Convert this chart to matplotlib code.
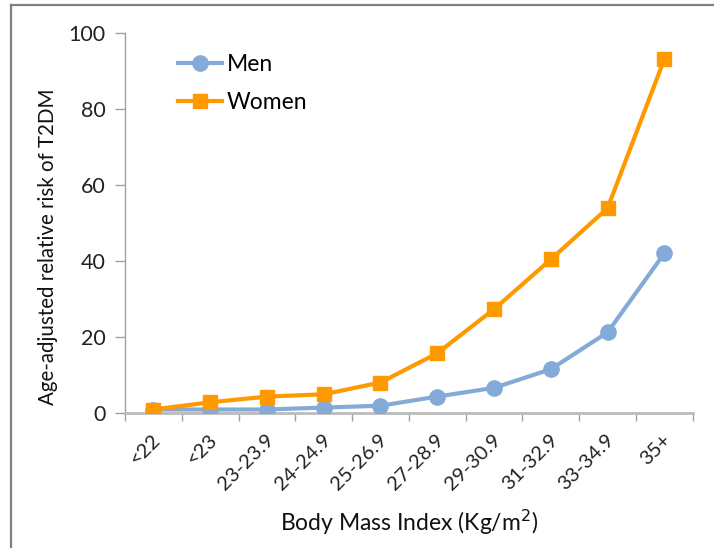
import matplotlib
matplotlib.use("Agg")
import matplotlib.pyplot as plt
from matplotlib.lines import Line2D
from matplotlib.transforms import ScaledTranslation

categories = ["<22", "<23", "23-23.9", "24-24.9", "25-26.9", "27-28.9",
              "29-30.9", "31-32.9", "33-34.9", "35+"]
men = [1.0, 1.0, 1.0, 1.5, 2.0, 4.4, 6.7, 11.6, 21.3, 42.1]
women = [1.0, 2.9, 4.4, 5.0, 8.1, 15.8, 27.4, 40.5, 54.0, 93.2]
yticks = [0, 20, 40, 60, 80, 100]

plt.rcParams['font.family'] = ['Lato', 'DejaVu Sans']

fig = plt.figure(figsize=(7.14, 5.48), dpi=100)
ax = fig.add_axes([0.1751, 0.2458, 0.9702 - 0.1751, 0.9392 - 0.2458])

x = list(range(len(categories)))
ax.plot(x, men, color='#84ABD7', lw=3.0, marker='o', markersize=11,
        label='Men', zorder=3)
ax.plot(x, women, color='#FF9900', lw=3.0, marker='s', markersize=10,
        label='Women', zorder=4)

ax.set_xlim(-0.5, len(categories) - 0.5)
ax.set_ylim(0, 100)
ax.set_yticks(yticks)
ax.set_yticklabels([str(v) for v in yticks], fontsize=15.5, color='#222222')

ax.set_xticks(x)
ax.set_xticklabels(categories, rotation=45, ha='right', rotation_mode='anchor',
                   fontsize=14.5, color='#222222')
ax.tick_params(axis='x', which='major', length=0, pad=13)
offset = ScaledTranslation(-2 / 100, 0, fig.dpi_scale_trans)
for lab in ax.get_xticklabels():
    lab.set_transform(lab.get_transform() + offset)
ax.set_xticks([i - 0.5 for i in range(len(categories) + 1)], minor=True)
ax.tick_params(axis='x', which='minor', length=6, width=1, color='#A0A0A0',
               direction='out')
ax.tick_params(axis='y', length=7, width=1, color='#A0A0A0', direction='out',
               pad=7)

for s in ['top', 'right']:
    ax.spines[s].set_visible(False)
ax.spines['left'].set_color('#A0A0A0')
ax.spines['bottom'].set_color('#BBBBBB')
ax.spines['bottom'].set_linewidth(2)
ax.spines['left'].set_linewidth(1)

ax.set_ylabel('Age-adjusted relative risk of T2DM', fontsize=14.8, color='#111111')
ax.yaxis.set_label_coords(-0.118, 0.4376)
ax.set_xlabel('Body Mass Index (Kg/m$^2$)', fontsize=16.5, color='#111111')
ax.xaxis.set_label_coords(0.5, -(508 - 413.3) / 380.0)

leg = ax.legend(loc='upper left', bbox_to_anchor=(0.078, 0.97), frameon=False,
                fontsize=16.5, handlelength=1.9, handletextpad=0.2,
                labelspacing=0.75, borderaxespad=0)

# figure frame (top and left edges)
fig.add_artist(Line2D([11 / 714, 1.0], [1 - 5 / 548, 1 - 5 / 548],
                      transform=fig.transFigure, color='#808080', lw=1.6))
fig.add_artist(Line2D([11 / 714, 11 / 714], [0, 1 - 5 / 548],
                      transform=fig.transFigure, color='#808080', lw=1.6))

fig.savefig('out.png', dpi=100)
